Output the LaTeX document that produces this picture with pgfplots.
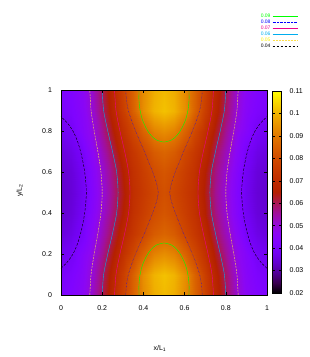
\documentclass[border=0pt]{standalone}
\usepackage{fontspec}
\setmainfont{Liberation Sans}
\usepackage{pgfplots}
\pgfplotsset{compat=1.18}
\begin{document}
\begin{tikzpicture}
\useasboundingbox (-61pt,-62pt) rectangle (248pt,295pt);
\begin{axis}[
  at={(0pt,0pt)}, anchor=south west,
  width=206pt, height=205pt, scale only axis,
  xmin=0, xmax=1, ymin=0, ymax=1,
  xtick={0,0.2,0.4,0.6,0.8,1}, ytick={0,0.2,0.4,0.6,0.8,1},
  tick align=inside, major tick length=3pt,
  tick style={black, line width=0.4pt},
  ticklabel style={font=\fontsize{7}{8}\selectfont},
  /pgf/number format/assume math mode=true,
  xticklabel style={yshift=-7pt},
  yticklabel style={xshift=-5.5pt},
  xlabel={x/L\textsubscript{1}}, ylabel={y/L\textsubscript{2}},
  label style={font=\fontsize{7}{8}\selectfont},
  x label style={at={(axis description cs:0.48,-0.26)}, anchor=center},
  y label style={at={(axis description cs:-0.2,0.51)}, anchor=center},
  axis on top,
  colormap={gp}{rgb=(0,0,0) rgb=(0.224,0,0.309) rgb=(0.316,0.001,0.588) rgb=(0.387,0.003,0.809)
    rgb=(0.447,0.008,0.951) rgb=(0.5,0.016,1) rgb=(0.548,0.027,0.951) rgb=(0.592,0.043,0.809)
    rgb=(0.632,0.064,0.588) rgb=(0.671,0.091,0.309) rgb=(0.707,0.125,0) rgb=(0.742,0.166,0)
    rgb=(0.775,0.216,0) rgb=(0.806,0.275,0) rgb=(0.837,0.343,0) rgb=(0.866,0.422,0)
    rgb=(0.894,0.512,0) rgb=(0.922,0.614,0) rgb=(0.949,0.729,0) rgb=(0.975,0.857,0) rgb=(1,1,0)},
  point meta min=0.02, point meta max=0.11,
  colorbar,
  colorbar style={
    at={(parent axis.north east)}, anchor=north west,
    xshift=-3.3pt, yshift=-1pt,
    width=9.4pt, height=202pt, scale only axis,
    ytick={0.02,0.03,0.04,0.05,0.06,0.07,0.08,0.09,0.1,0.11},
    tick align=inside, major tick length=2.5pt,
    ytick pos=both, yticklabel pos=right,
    yticklabel style={font=\fontsize{7}{8}\selectfont, xshift=4.5pt,
      /pgf/number format/.cd, fixed, precision=2, assume math mode=true},
  },
  legend style={
    at={(axis description cs:1.150,1.376)}, anchor=north east,
    draw=none, fill=none, inner sep=0pt, outer sep=0pt,
    font=\fontsize{5}{6}\selectfont,
    row sep=0pt, column sep=1pt,
    nodes={inner sep=1pt, text height=4pt, text depth=0pt},
  },
  legend plot pos=right,
  legend cell align=right,
  legend image code/.code={\draw[#1, line width=0.4pt] (0pt,0pt) -- (25pt,0pt);},
]
\addplot[surf, shader=interp, point meta=explicit, mesh/cols=21, forget plot] coordinates {
(0,0) [0.0420] (0.05,0) [0.0430] (0.1,0) [0.0461] (0.15,0) [0.0517] (0.2,0) [0.0600] (0.25,0) [0.0683] (0.3,0) [0.0774] (0.35,0) [0.0855] (0.4,0) [0.0934] (0.45,0) [0.0991] (0.5,0) [0.1010] (0.55,0) [0.0991] (0.6,0) [0.0934] (0.65,0) [0.0855] (0.7,0) [0.0774] (0.75,0) [0.0683] (0.8,0) [0.0600] (0.85,0) [0.0517] (0.9,0) [0.0461] (0.95,0) [0.0430] (1,0) [0.0420]
(0,0.1) [0.0408] (0.05,0.1) [0.0419] (0.1,0.1) [0.0451] (0.15,0.1) [0.0507] (0.2,0.1) [0.0589] (0.25,0.1) [0.0672] (0.3,0.1) [0.0760] (0.35,0.1) [0.0851] (0.4,0.1) [0.0941] (0.45,0.1) [0.1000] (0.5,0.1) [0.1020] (0.55,0.1) [0.1000] (0.6,0.1) [0.0941] (0.65,0.1) [0.0851] (0.7,0.1) [0.0760] (0.75,0.1) [0.0672] (0.8,0.1) [0.0589] (0.85,0.1) [0.0507] (0.9,0.1) [0.0451] (0.95,0.1) [0.0419] (1,0.1) [0.0408]
(0,0.2) [0.0380] (0.05,0.2) [0.0394] (0.1,0.2) [0.0440] (0.15,0.2) [0.0489] (0.2,0.2) [0.0559] (0.25,0.2) [0.0639] (0.3,0.2) [0.0719] (0.35,0.2) [0.0786] (0.4,0.2) [0.0857] (0.45,0.2) [0.0920] (0.5,0.2) [0.0940] (0.55,0.2) [0.0920] (0.6,0.2) [0.0857] (0.65,0.2) [0.0786] (0.7,0.2) [0.0719] (0.75,0.2) [0.0639] (0.8,0.2) [0.0559] (0.85,0.2) [0.0489] (0.9,0.2) [0.0440] (0.95,0.2) [0.0394] (1,0.2) [0.0380]
(0,0.3) [0.0355] (0.05,0.3) [0.0366] (0.1,0.3) [0.0401] (0.15,0.3) [0.0464] (0.2,0.3) [0.0530] (0.25,0.3) [0.0600] (0.3,0.3) [0.0685] (0.35,0.3) [0.0739] (0.4,0.3) [0.0785] (0.45,0.3) [0.0839] (0.5,0.3) [0.0860] (0.55,0.3) [0.0839] (0.6,0.3) [0.0785] (0.65,0.3) [0.0739] (0.7,0.3) [0.0685] (0.75,0.3) [0.0600] (0.8,0.3) [0.0530] (0.85,0.3) [0.0464] (0.9,0.3) [0.0401] (0.95,0.3) [0.0366] (1,0.3) [0.0355]
(0,0.4) [0.0340] (0.05,0.4) [0.0351] (0.1,0.4) [0.0384] (0.15,0.4) [0.0443] (0.2,0.4) [0.0508] (0.25,0.4) [0.0574] (0.3,0.4) [0.0652] (0.35,0.4) [0.0718] (0.4,0.4) [0.0759] (0.45,0.4) [0.0800] (0.5,0.4) [0.0825] (0.55,0.4) [0.0800] (0.6,0.4) [0.0759] (0.65,0.4) [0.0718] (0.7,0.4) [0.0652] (0.75,0.4) [0.0574] (0.8,0.4) [0.0508] (0.85,0.4) [0.0443] (0.9,0.4) [0.0384] (0.95,0.4) [0.0351] (1,0.4) [0.0340]
(0,0.5) [0.0335] (0.05,0.5) [0.0346] (0.1,0.5) [0.0378] (0.15,0.5) [0.0435] (0.2,0.5) [0.0500] (0.25,0.5) [0.0565] (0.3,0.5) [0.0640] (0.35,0.5) [0.0711] (0.4,0.5) [0.0747] (0.45,0.5) [0.0784] (0.5,0.5) [0.0810] (0.55,0.5) [0.0784] (0.6,0.5) [0.0747] (0.65,0.5) [0.0711] (0.7,0.5) [0.0640] (0.75,0.5) [0.0565] (0.8,0.5) [0.0500] (0.85,0.5) [0.0435] (0.9,0.5) [0.0378] (0.95,0.5) [0.0346] (1,0.5) [0.0335]
(0,0.6) [0.0340] (0.05,0.6) [0.0351] (0.1,0.6) [0.0384] (0.15,0.6) [0.0443] (0.2,0.6) [0.0508] (0.25,0.6) [0.0574] (0.3,0.6) [0.0652] (0.35,0.6) [0.0718] (0.4,0.6) [0.0759] (0.45,0.6) [0.0800] (0.5,0.6) [0.0825] (0.55,0.6) [0.0800] (0.6,0.6) [0.0759] (0.65,0.6) [0.0718] (0.7,0.6) [0.0652] (0.75,0.6) [0.0574] (0.8,0.6) [0.0508] (0.85,0.6) [0.0443] (0.9,0.6) [0.0384] (0.95,0.6) [0.0351] (1,0.6) [0.0340]
(0,0.7) [0.0355] (0.05,0.7) [0.0366] (0.1,0.7) [0.0401] (0.15,0.7) [0.0464] (0.2,0.7) [0.0530] (0.25,0.7) [0.0600] (0.3,0.7) [0.0685] (0.35,0.7) [0.0739] (0.4,0.7) [0.0785] (0.45,0.7) [0.0839] (0.5,0.7) [0.0860] (0.55,0.7) [0.0839] (0.6,0.7) [0.0785] (0.65,0.7) [0.0739] (0.7,0.7) [0.0685] (0.75,0.7) [0.0600] (0.8,0.7) [0.0530] (0.85,0.7) [0.0464] (0.9,0.7) [0.0401] (0.95,0.7) [0.0366] (1,0.7) [0.0355]
(0,0.8) [0.0380] (0.05,0.8) [0.0394] (0.1,0.8) [0.0440] (0.15,0.8) [0.0489] (0.2,0.8) [0.0559] (0.25,0.8) [0.0639] (0.3,0.8) [0.0719] (0.35,0.8) [0.0786] (0.4,0.8) [0.0857] (0.45,0.8) [0.0920] (0.5,0.8) [0.0940] (0.55,0.8) [0.0920] (0.6,0.8) [0.0857] (0.65,0.8) [0.0786] (0.7,0.8) [0.0719] (0.75,0.8) [0.0639] (0.8,0.8) [0.0559] (0.85,0.8) [0.0489] (0.9,0.8) [0.0440] (0.95,0.8) [0.0394] (1,0.8) [0.0380]
(0,0.9) [0.0408] (0.05,0.9) [0.0419] (0.1,0.9) [0.0451] (0.15,0.9) [0.0507] (0.2,0.9) [0.0589] (0.25,0.9) [0.0672] (0.3,0.9) [0.0760] (0.35,0.9) [0.0851] (0.4,0.9) [0.0941] (0.45,0.9) [0.1000] (0.5,0.9) [0.1020] (0.55,0.9) [0.1000] (0.6,0.9) [0.0941] (0.65,0.9) [0.0851] (0.7,0.9) [0.0760] (0.75,0.9) [0.0672] (0.8,0.9) [0.0589] (0.85,0.9) [0.0507] (0.9,0.9) [0.0451] (0.95,0.9) [0.0419] (1,0.9) [0.0408]
(0,1) [0.0420] (0.05,1) [0.0430] (0.1,1) [0.0461] (0.15,1) [0.0517] (0.2,1) [0.0600] (0.25,1) [0.0683] (0.3,1) [0.0774] (0.35,1) [0.0855] (0.4,1) [0.0934] (0.45,1) [0.0991] (0.5,1) [0.1010] (0.55,1) [0.0991] (0.6,1) [0.0934] (0.65,1) [0.0855] (0.7,1) [0.0774] (0.75,1) [0.0683] (0.8,1) [0.0600] (0.85,1) [0.0517] (0.9,1) [0.0461] (0.95,1) [0.0430] (1,1) [0.0420]
};
% 0.09
\addplot[green, line width=0.4pt, smooth] coordinates {(0.379,0) (0.3785,0.05) (0.384,0.1) (0.397,0.15) (0.421,0.2) (0.445,0.23) (0.466,0.245) (0.5,0.254) (0.534,0.245) (0.555,0.23) (0.579,0.2) (0.603,0.15) (0.616,0.1) (0.6215,0.05) (0.621,0)};
\addlegendentry{\textcolor{green}{0.09}}
\addplot[green, line width=0.4pt, smooth, forget plot] coordinates {(0.379,1) (0.3785,0.95) (0.384,0.9) (0.397,0.85) (0.421,0.8) (0.445,0.77) (0.466,0.755) (0.5,0.746) (0.534,0.755) (0.555,0.77) (0.579,0.8) (0.603,0.85) (0.616,0.9) (0.6215,0.95) (0.621,1)};
% 0.08
\addplot[blue, line width=0.4pt, densely dotted, smooth] coordinates {(0.314,0) (0.318,0.05) (0.327,0.1) (0.343,0.15) (0.362,0.2) (0.383,0.25) (0.405,0.3) (0.425,0.35) (0.445,0.4) (0.462,0.45) (0.472,0.5) (0.462,0.55) (0.445,0.6) (0.425,0.65) (0.405,0.7) (0.383,0.75) (0.362,0.8) (0.343,0.85) (0.327,0.9) (0.318,0.95) (0.314,1)};
\addlegendentry{\textcolor{blue}{0.08}}
\addplot[blue, line width=0.4pt, densely dotted, smooth, forget plot] coordinates {(0.686,0) (0.682,0.05) (0.673,0.1) (0.657,0.15) (0.638,0.2) (0.617,0.25) (0.595,0.3) (0.575,0.35) (0.555,0.4) (0.538,0.45) (0.528,0.5) (0.538,0.55) (0.555,0.6) (0.575,0.65) (0.595,0.7) (0.617,0.75) (0.638,0.8) (0.657,0.85) (0.673,0.9) (0.682,0.95) (0.686,1)};
% 0.07
\addplot[magenta, line width=0.4pt, smooth] coordinates {(0.260,0) (0.267,0.1) (0.286,0.2) (0.309,0.3) (0.328,0.4) (0.335,0.5) (0.328,0.6) (0.309,0.7) (0.286,0.8) (0.267,0.9) (0.260,1)};
\addlegendentry{\textcolor{magenta}{0.07}}
\addplot[magenta, line width=0.4pt, smooth, forget plot] coordinates {(0.740,0) (0.733,0.1) (0.714,0.2) (0.691,0.3) (0.672,0.4) (0.665,0.5) (0.672,0.6) (0.691,0.7) (0.714,0.8) (0.733,0.9) (0.740,1)};
% 0.06
\addplot[cyan, line width=0.4pt, smooth] coordinates {(0.200,0) (0.207,0.1) (0.227,0.2) (0.250,0.3) (0.270,0.4) (0.277,0.5) (0.270,0.6) (0.250,0.7) (0.227,0.8) (0.207,0.9) (0.200,1)};
\addlegendentry{\textcolor{cyan}{0.06}}
\addplot[cyan, line width=0.4pt, smooth, forget plot] coordinates {(0.800,0) (0.793,0.1) (0.773,0.2) (0.750,0.3) (0.730,0.4) (0.723,0.5) (0.730,0.6) (0.750,0.7) (0.773,0.8) (0.793,0.9) (0.800,1)};
% 0.05
\addplot[yellow!60!pink, line width=0.4pt, dash pattern=on 2pt off 1pt, smooth] coordinates {(0.140,0) (0.146,0.1) (0.161,0.2) (0.179,0.3) (0.194,0.4) (0.200,0.5) (0.194,0.6) (0.179,0.7) (0.161,0.8) (0.146,0.9) (0.140,1)};
\addlegendentry{\textcolor{yellow}{0.05}}
\addplot[yellow!60!pink, line width=0.4pt, dash pattern=on 2pt off 1pt, smooth, forget plot] coordinates {(0.860,0) (0.854,0.1) (0.839,0.2) (0.821,0.3) (0.806,0.4) (0.800,0.5) (0.806,0.6) (0.821,0.7) (0.839,0.8) (0.854,0.9) (0.860,1)};
% 0.04
\addplot[black, line width=0.4pt, dash pattern=on 2.5pt off 1.5pt, smooth] coordinates {(0,0.13) (0.03,0.16) (0.058,0.2) (0.08,0.25) (0.099,0.316) (0.115,0.4) (0.123,0.5) (0.115,0.6) (0.099,0.684) (0.08,0.75) (0.058,0.8) (0.03,0.84) (0,0.87)};
\addlegendentry{\textcolor{black}{0.04}}
\addplot[black, line width=0.4pt, dash pattern=on 2.5pt off 1.5pt, smooth, forget plot] coordinates {(1,0.13) (0.97,0.16) (0.942,0.2) (0.92,0.25) (0.901,0.316) (0.885,0.4) (0.877,0.5) (0.885,0.6) (0.901,0.684) (0.92,0.75) (0.942,0.8) (0.97,0.84) (1,0.87)};
\end{axis}
\end{tikzpicture}
\end{document}
